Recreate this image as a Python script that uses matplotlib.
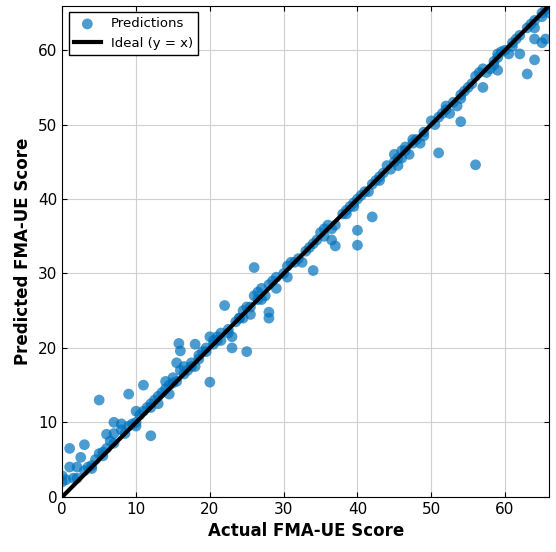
import matplotlib
matplotlib.use("Agg")
import matplotlib.pyplot as plt

points = [(0,2.8),(0,2.0),(0.5,2.3),(1,6.5),(1,4.0),(1.5,2.5),(2,2.5),(2,4.0),(2.5,5.3),(3,7.0),(3,3.5),(3.5,4.0),
(4,4.2),(4,3.8),(4.5,5.0),(5,13.0),(5,5.8),(5.5,6.0),(5.5,5.5),(6,8.4),(6,6.5),(6.5,7.5),(7,10.0),(7,8.5),(7,7.2),
(8,9.0),(8,9.8),(8.5,8.5),(9,13.8),(9,9.5),(9.5,9.8),(10,11.5),(10,10.0),(10,9.5),(10.5,11.0),(11,15.0),(11,11.5),
(11.5,12.0),(12,12.5),(12,8.2),(12,12.0),(12.5,13.0),(13,13.5),(13,12.5),(13.5,14.0),(14,14.5),(14,15.5),(14.5,15.0),
(14.5,13.8),(15,15.3),(15,16.0),(15.5,15.5),(15.5,18.0),(16,19.6),(15.8,20.6),(16,17.0),(16.5,17.5),(16.5,16.5),
(17,17.0),(17.5,18.0),(17.5,17.5),(18,17.5),(18,20.5),(18.5,19.0),(18.5,18.5),(19,19.5),(19.5,20.0),(19.5,19.5),
(20,21.5),(20,15.4),(20.5,21.0),(20.5,20.5),(21,21.0),(21,21.5),(21.5,22.0),(21.5,21.0),(22,25.7),(22.5,22.5),
(22.5,22.0),(23,21.5),(23,20.0),(23.5,23.5),(24,24.0),(24,24.0),(24.5,25.0),(24.5,24.0),(25,19.5),(25,25.5),
(25.5,24.5),(25.5,25.5),(26,30.8),(26,27.0),(26.5,26.5),(26.5,27.5),(27,28.0),(27,26.5),(27.5,27.0),(28,24.0),
(28,24.8),(28,28.5),(28.5,29.0),(29,28.0),(29,29.5),(30,30.0),(30.5,31.0),(30.5,29.5),(31,31.5),(31.5,31.5),
(32,32.0),(32.5,31.5),(33,33.0),(33.5,33.5),(34,34.0),(34,30.4),(34.5,34.5),(35,35.5),(35.5,36.0),(35.5,35.0),
(36,36.5),(36.5,36.0),(36.5,34.5),(37,36.5),(37,33.7),(38,38.0),(38.5,38.5),(38.5,38.0),(39,39.0),(39.5,39.5),
(39.5,39.0),(40,40.0),(40,35.8),(40,33.8),(40.5,40.5),(41,41.0),(41.5,41.0),(42,37.6),(42,42.0),(43,43.0),
(42.5,42.5),(43.5,43.5),(43,42.5),(44,44.5),(44.5,44.0),(45,45.0),(45,46.0),(45.5,44.5),(45.5,45.5),(46,46.5),
(46,45.5),(46.5,47.0),(46.5,46.5),(47,46.0),(47.5,48.0),(47.5,47.5),(48,48.0),(48.5,47.5),(49,49.0),(49,48.5),
(50,50.5),(50.5,50.0),(51,51.0),(51,46.2),(51.5,51.5),(52,52.0),(52,52.5),(52.5,51.5),(53,53.0),(53.5,52.5),
(54,54.0),(54,53.5),(54.5,54.5),(54,50.4),(55,55.0),(55.5,55.5),(56,56.5),(56,44.6),(56.5,57.0),(57,55.0),
(57,57.5),(57.5,57.0),(58,57.5),(58.5,58.5),(58.5,58.0),(59,59.0),(59,59.5),(59,57.3),(59.5,59.8),(60,60.0),
(60.5,59.5),(61,61.0),(61,60.5),(61.5,61.5),(62,59.5),(62,62.0),(63,63.0),(63,56.8),(63.5,63.5),(64,63.0),
(64,64.0),(64,58.7),(64,61.5),(65,65.0),(65,61.0),(65,64.5),(65.5,65.5),(65.5,61.5),(66,66.0),(66,65.0)]
actual = [p[0] for p in points]
predicted = [p[1] for p in points]

fig, ax = plt.subplots(figsize=(5.56, 5.52), dpi=100)
fig.subplots_adjust(left=0.112, right=0.988, top=0.99, bottom=0.1)
ax.scatter(actual, predicted, s=60, color='#0072BD', alpha=0.7, edgecolors='none', label='Predictions', zorder=2)
ax.plot([0, 66], [0, 66], color='black', lw=3, label='Ideal (y = x)', zorder=3)
ax.set_xlim(0, 66); ax.set_ylim(0, 66)
ax.set_xticks(range(0, 61, 10)); ax.set_yticks(range(0, 61, 10))
ax.grid(True, color='#d0d0d0', lw=0.8, zorder=0)
ax.tick_params(direction='in', top=True, right=True, labelsize=11)
ax.set_xlabel('Actual FMA-UE Score', fontsize=12, fontweight='bold')
ax.set_ylabel('Predicted FMA-UE Score', fontsize=12, fontweight='bold')
ax.legend(loc='upper left', fontsize=9.5, fancybox=False, edgecolor='black', framealpha=1)
fig.savefig('out.png', dpi=100)
